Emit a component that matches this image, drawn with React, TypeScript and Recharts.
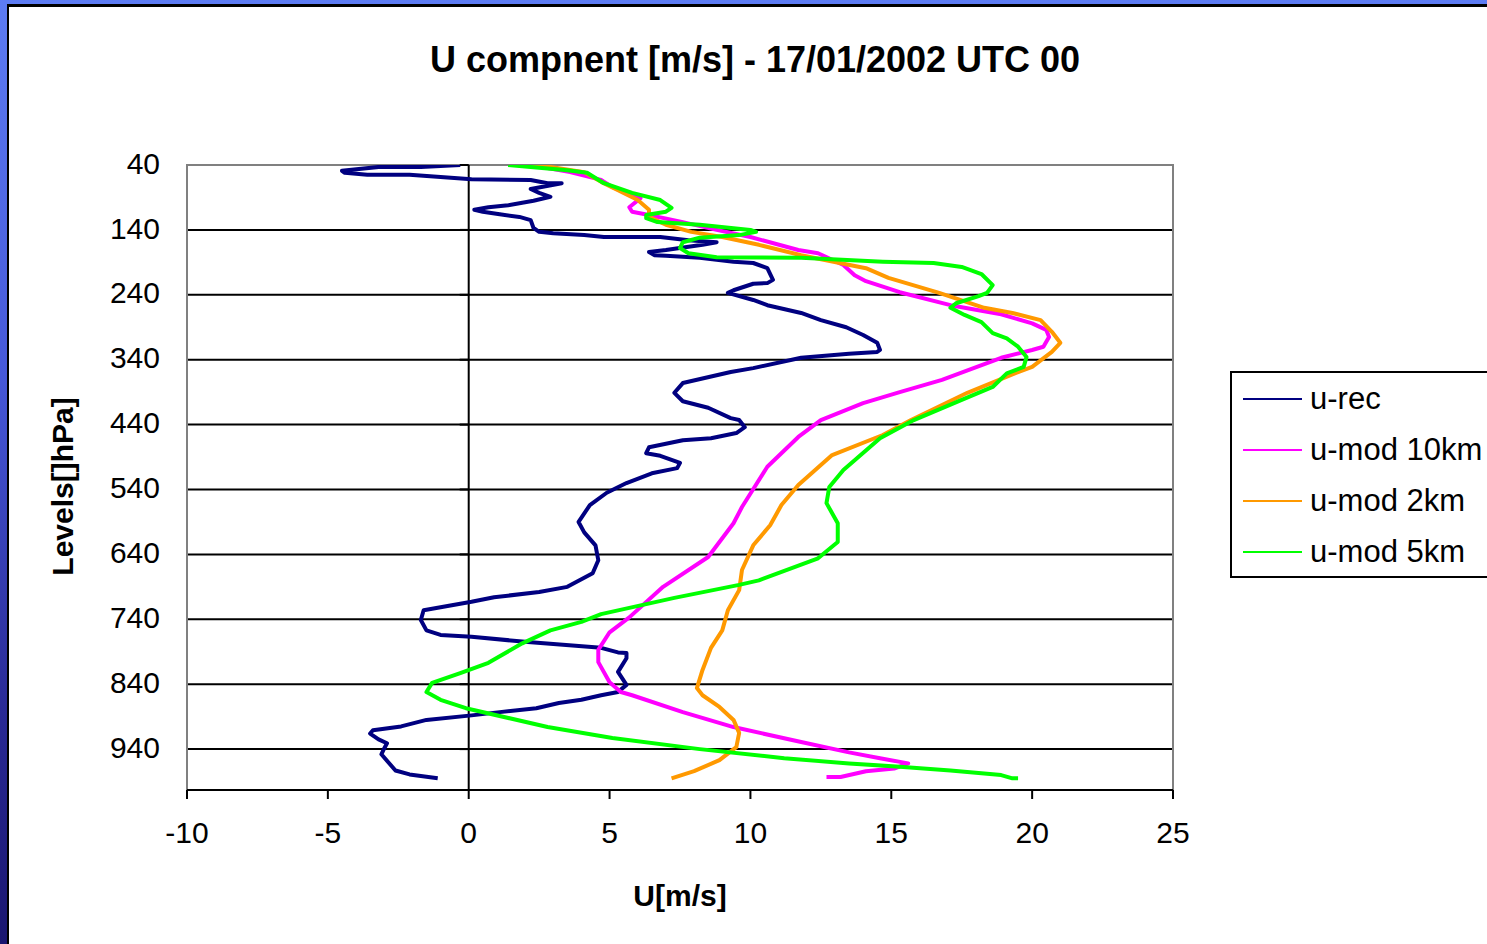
import {
  CartesianGrid,
  ReferenceArea,
  ReferenceLine,
  Scatter,
  ScatterChart,
  XAxis,
  YAxis,
} from 'recharts';

// [pressure level hPa, u m/s] pairs, top of the sounding first
const U_REC: [number, number][] = [
  [40, -0.3], [43, -1.7], [43, -3.2], [49, -4.5], [52, -4.4], [55, -3.6], [55, -2.1], [62, 0.1],
  [63, 2.2], [68, 2.8], [68, 3.3], [77, 2.2], [83, 2.5], [89, 2.9], [95, 2.3], [102, 1.4],
  [105, 0.7], [109, 0.2], [112, 0.5], [116, 1.1], [120, 1.8], [125, 2.2], [137, 2.3], [143, 2.5],
  [145, 3.0], [148, 4.1], [151, 4.8], [151, 6.8], [156, 7.8], [159, 8.8], [163, 8.3], [171, 7.0],
  [174, 6.4], [179, 6.6], [180, 7.0], [183, 8.2], [189, 9.4], [191, 10.1], [199, 10.6], [217, 10.8],
  [222, 10.6], [223, 10.1], [233, 9.4], [237, 9.2], [248, 10.1], [256, 10.6], [268, 11.8], [279, 12.5],
  [290, 13.4], [302, 14.0], [314, 14.5], [325, 14.6], [328, 14.5], [331, 13.5], [337, 11.8], [353, 10.1],
  [359, 9.3], [376, 7.6], [391, 7.3], [404, 7.6], [414, 8.5], [430, 9.3], [433, 9.6], [444, 9.8],
  [453, 9.5], [461, 8.6], [464, 7.6], [475, 6.4], [484, 6.3], [488, 6.8], [499, 7.5], [507, 7.4],
  [515, 6.5], [530, 5.6], [545, 4.9], [564, 4.3], [590, 3.9], [606, 4.1], [626, 4.5], [649, 4.6],
  [669, 4.4], [690, 3.5], [698, 2.5], [706, 0.9], [713, 0.1], [726, -1.6], [741, -1.7], [757, -1.5],
  [764, -1.0], [767, 0.1], [775, 2.1], [784, 4.7], [791, 5.3], [792, 5.6], [800, 5.6], [821, 5.3],
  [841, 5.6], [852, 5.3], [857, 4.7], [864, 4.0], [869, 3.2], [877, 2.4], [883, 1.1], [888, 0.1],
  [895, -1.5], [905, -2.4], [911, -3.4], [916, -3.5], [925, -3.2], [931, -2.9], [939, -3.0], [948, -3.1],
  [973, -2.6], [979, -2.1], [985, -1.1],
];

const U_MOD_10KM: [number, number][] = [
  [40, 2.2], [51, 3.6], [63, 4.7], [74, 5.1], [91, 6.1], [105, 5.7], [112, 5.8], [117, 6.4],
  [128, 7.6], [140, 8.8], [151, 10.0], [171, 11.7], [176, 12.4], [194, 13.3], [210, 13.7], [219, 14.1],
  [236, 15.3], [256, 17.1], [270, 18.9], [284, 20.0], [294, 20.5], [305, 20.6], [320, 20.4], [325, 20.0],
  [337, 18.9], [371, 16.8], [390, 15.3], [407, 14.0], [433, 12.5], [459, 11.7], [505, 10.6], [567, 9.7],
  [592, 9.4], [644, 8.5], [690, 6.9], [737, 5.7], [760, 5.0], [787, 4.6], [806, 4.6], [837, 5.0],
  [852, 5.4], [857, 5.8], [883, 7.6], [906, 9.4], [929, 11.8], [945, 13.5], [954, 14.6], [962, 15.6],
  [970, 15.1], [974, 14.1], [983, 13.2], [983, 12.7],
];

const U_MOD_2KM: [number, number][] = [
  [40, 2.0], [43, 2.9], [51, 4.1], [66, 4.7], [79, 5.3], [94, 6.0], [109, 6.4], [120, 6.4],
  [132, 7.0], [143, 7.9], [151, 9.0], [163, 10.3], [179, 11.8], [199, 14.1], [214, 14.9], [237, 16.7],
  [260, 18.3], [268, 19.3], [279, 20.3], [297, 20.7], [314, 21.0], [328, 20.7], [351, 20.0], [359, 19.5],
  [391, 17.7], [433, 15.7], [456, 14.7], [487, 12.9], [533, 11.7], [564, 11.1], [595, 10.7], [626, 10.1],
  [664, 9.7], [695, 9.6], [726, 9.2], [757, 9.0], [784, 8.6], [818, 8.3], [846, 8.1], [857, 8.3],
  [875, 8.9], [895, 9.4], [915, 9.6], [937, 9.5], [957, 8.9], [974, 8.0], [985, 7.2],
];

const U_MOD_5KM: [number, number][] = [
  [40, 1.4], [48, 3.5], [52, 4.2], [68, 4.8], [83, 5.8], [94, 6.8], [106, 7.2], [112, 7.0],
  [117, 6.3], [122, 6.3], [128, 6.7], [132, 8.2], [140, 10.0], [143, 10.2], [148, 9.6], [152, 8.2],
  [159, 7.6], [168, 7.5], [176, 7.8], [182, 8.8], [183, 11.8], [189, 14.7], [191, 16.5], [197, 17.5],
  [208, 18.2], [225, 18.6], [237, 18.4], [242, 18.1], [253, 17.3], [260, 17.1], [271, 17.6], [282, 18.2],
  [299, 18.6], [307, 19.1], [320, 19.5], [336, 19.8], [351, 19.7], [361, 19.1], [382, 18.6], [402, 17.5],
  [433, 15.8], [461, 14.6], [510, 13.3], [536, 12.8], [561, 12.7], [592, 13.1], [621, 13.1], [646, 12.4],
  [680, 10.3], [687, 9.6], [707, 7.3], [732, 4.7], [744, 4.0], [757, 2.9], [777, 1.9], [807, 0.7],
  [823, -0.3], [838, -1.3], [852, -1.5], [864, -1.0], [877, -0.1], [906, 2.8], [923, 5.1], [940, 8.2],
  [954, 11.2], [962, 13.5], [967, 15.3], [973, 17.1], [980, 18.9], [985, 19.3], [985, 19.5],
];

const LEVEL_TICKS = [40, 140, 240, 340, 440, 540, 640, 740, 840, 940];
const U_TICKS = [-10, -5, 0, 5, 10, 15, 20, 25];

const SERIES = [
  { name: 'u-rec', rows: U_REC, color: '#000080' },
  { name: 'u-mod 10km', rows: U_MOD_10KM, color: '#ff00ff' },
  { name: 'u-mod 2km', rows: U_MOD_2KM, color: '#ff9900' },
  { name: 'u-mod 5km', rows: U_MOD_5KM, color: '#00ff00' },
];

const FONT = '"Liberation Sans", Arial, sans-serif';

const toPoints = (rows: [number, number][]) => rows.map(([p, u]) => ({ p, u }));

const noDot = () => <g />;

// profile polyline through the points Scatter has already scaled
const profileLine = (color: string) => (props: any) => (
  <polyline
    points={(props.points || []).map((pt: any) => `${pt.x},${pt.y}`).join(' ')}
    fill="none"
    stroke={color}
    strokeWidth={4}
    strokeLinejoin="round"
  />
);

function Legend() {
  return (
    <div
      style={{
        position: 'absolute',
        left: 1230,
        top: 371,
        width: 300,
        height: 203,
        border: '2px solid #000',
        background: '#fff',
        fontFamily: FONT,
        fontSize: 31,
      }}
    >
      {SERIES.map((s) => (
        <div key={s.name} style={{ height: 51, display: 'flex', alignItems: 'center' }}>
          <span
            style={{ display: 'inline-block', marginLeft: 11, width: 59, height: 2, background: s.color }}
          />
          <span style={{ marginLeft: 8, whiteSpace: 'nowrap' }}>{s.name}</span>
        </div>
      ))}
    </div>
  );
}

export default function App() {
  return (
    <div
      style={{
        position: 'relative',
        width: 1487,
        height: 944,
        overflow: 'hidden',
        background: 'linear-gradient(180deg, #5d7cf3 0%, #4658d8 40%, #2a2a96 75%, #1a1670 100%)',
      }}
    >
      <style>{'body{margin:0}'}</style>
      <div
        style={{
          position: 'absolute',
          left: 7,
          top: 4,
          right: -10,
          bottom: -10,
          background: '#fff',
          borderLeft: '2px solid #000',
          borderTop: '3px solid #000',
        }}
      />
      <div
        style={{
          position: 'absolute',
          left: 255,
          width: 1000,
          top: 38,
          textAlign: 'center',
          fontFamily: FONT,
          fontWeight: 'bold',
          fontSize: 36,
          lineHeight: '44px',
        }}
      >
        U compnent [m/s] - 17/01/2002 UTC 00
      </div>
      <div style={{ position: 'absolute', left: 0, top: 0 }}>
        <ScatterChart width={1487} height={944} margin={{ top: 165, right: 314, bottom: 0, left: 0 }}>
          <CartesianGrid vertical={false} stroke="#000" strokeWidth={2} />
          <XAxis
            type="number"
            dataKey="u"
            domain={[-10, 25]}
            ticks={U_TICKS}
            allowDataOverflow
            height={154}
            axisLine={{ stroke: '#000', strokeWidth: 2 }}
            tickLine={{ stroke: '#000', strokeWidth: 2 }}
            tickSize={9}
            tickMargin={23}
            tick={{ fill: '#000', fontSize: 30, fontFamily: FONT }}
            label={{
              value: 'U[m/s]',
              position: 'insideBottom',
              offset: 38,
              fill: '#000',
              fontSize: 30,
              fontWeight: 'bold',
              fontFamily: FONT,
            }}
          />
          <YAxis
            type="number"
            dataKey="p"
            domain={[40, 1003]}
            ticks={LEVEL_TICKS}
            reversed
            allowDataOverflow
            width={187}
            axisLine={false}
            tickLine={false}
            tickSize={0}
            tickMargin={27}
            tick={{ fill: '#000', fontSize: 30, fontFamily: FONT, dy: -2 }}
            label={{
              value: 'Levels[]hPa]',
              angle: -90,
              position: 'center',
              dx: -31,
              dy: 9,
              fill: '#000',
              fontSize: 30,
              fontWeight: 'bold',
              fontFamily: FONT,
            }}
          />
          <ReferenceArea x1={-10} x2={25} y1={40} y2={1003} fill="none" stroke="#808080" strokeWidth={2} />
          <ReferenceLine x={0} stroke="#000" strokeWidth={2} />
          {LEVEL_TICKS.map((lvl) => (
            <ReferenceLine
              key={lvl}
              segment={[
                { x: -0.32, y: lvl },
                { x: 0, y: lvl },
              ]}
              stroke="#000"
              strokeWidth={2}
            />
          ))}
          {SERIES.map((s) => (
            <Scatter
              key={s.name}
              name={s.name}
              data={toPoints(s.rows)}
              line={profileLine(s.color)}
              lineType="joint"
              shape={noDot}
              fill={s.color}
              isAnimationActive={false}
            />
          ))}
        </ScatterChart>
      </div>
      <Legend />
    </div>
  );
}
